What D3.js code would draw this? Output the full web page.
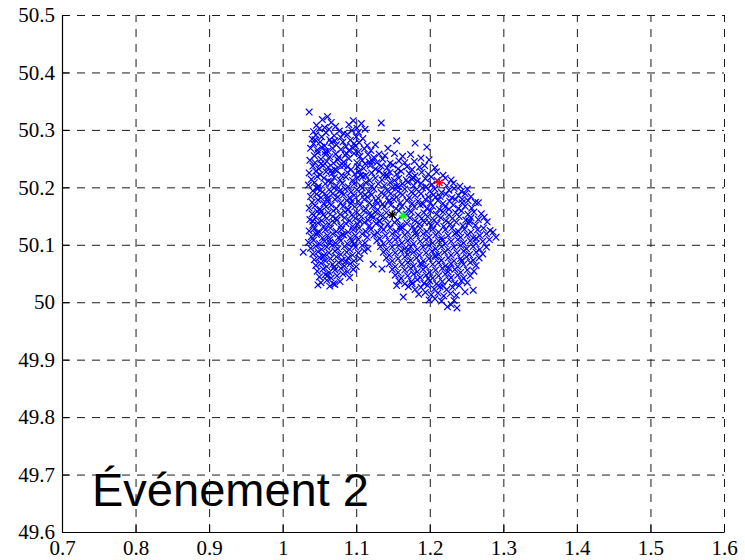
<!DOCTYPE html>
<html>
<head>
<meta charset="utf-8">
<script src="https://cdn.jsdelivr.net/npm/d3@7"></script>
<style>
  html, body { margin: 0; padding: 0; background: #fff; }
  svg { display: block; }
  svg .tick text { font-family: "Liberation Serif", "DejaVu Serif", serif !important; font-size: 21px; }
  svg .label { font-family: "Liberation Sans", Arial, sans-serif; font-size: 47px; }
</style>
</head>
<body>
<svg id="chart" width="745" height="560"></svg>
<script>
// Axis ranges and tick labels
const xDomain = [0.7, 1.6];
const yDomain = [49.6, 50.5];
const xTickValues = [0.7, 0.8, 0.9, 1.0, 1.1, 1.2, 1.3, 1.4, 1.5, 1.6];
const xTickLabels = ["0.7", "0.8", "0.9", "1", "1.1", "1.2", "1.3", "1.4", "1.5", "1.6"];
const yTickValues = [49.6, 49.7, 49.8, 49.9, 50.0, 50.1, 50.2, 50.3, 50.4, 50.5];
const yTickLabels = ["49.6", "49.7", "49.8", "49.9", "50", "50.1", "50.2", "50.3", "50.4", "50.5"];

// Simulated estimates (x, y)
const samples = [
  [1.036,50.331],
  [1.054,50.318],[1.061,50.323],[1.134,50.312],[1.096,50.316],
  [1.046,50.308],[1.057,50.304],[1.066,50.313],[1.072,50.306],[1.09,50.309],[1.101,50.303],[1.107,50.311],
  [1.042,50.297],[1.05,50.302],[1.059,50.295],[1.063,50.301],[1.077,50.298],[1.083,50.294],[1.094,50.299],[1.103,50.296],[1.112,50.301],
  [1.04,50.284],[1.045,50.291],[1.053,50.288],[1.064,50.283],[1.07,50.29],[1.079,50.287],[1.088,50.292],[1.092,50.282],[1.1,50.288],[1.109,50.285],[1.155,50.281],
  [1.042,50.276],[1.051,50.279],[1.057,50.272],[1.066,50.278],[1.073,50.274],[1.082,50.279],[1.086,50.271],[1.097,50.276],[1.104,50.278],[1.115,50.273],[1.126,50.274],[1.18,50.277],
  [1.038,50.268],[1.047,50.265],[1.053,50.27],[1.061,50.263],[1.068,50.268],[1.079,50.266],[1.09,50.264],[1.095,50.269],[1.103,50.262],[1.111,50.267],[1.12,50.264],[1.143,50.268],[1.196,50.27],
  [1.043,50.255],[1.048,50.26],[1.058,50.257],[1.064,50.253],[1.072,50.258],[1.076,50.252],[1.085,50.256],[1.097,50.259],[1.105,50.254],[1.116,50.257],[1.124,50.252],[1.131,50.258],[1.139,50.255],[1.152,50.259],[1.163,50.254],[1.174,50.257],[1.188,50.251],
  [1.037,50.247],[1.044,50.243],[1.052,50.249],[1.06,50.245],[1.069,50.242],[1.075,50.248],[1.083,50.244],[1.09,50.25],[1.101,50.243],[1.108,50.247],[1.112,50.241],[1.122,50.246],[1.128,50.243],[1.136,50.249],[1.146,50.242],[1.158,50.246],[1.166,50.243],[1.179,50.245],[1.199,50.248],
  [1.041,50.237],[1.049,50.232],[1.055,50.238],[1.062,50.235],[1.071,50.231],[1.078,50.238],[1.088,50.236],[1.093,50.231],[1.102,50.236],[1.11,50.233],[1.119,50.238],[1.126,50.232],[1.134,50.237],[1.142,50.234],[1.15,50.239],[1.157,50.232],[1.169,50.236],[1.176,50.231],[1.186,50.235],[1.193,50.238],[1.207,50.234],
  [1.036,50.225],[1.045,50.228],[1.051,50.222],[1.059,50.227],[1.067,50.224],[1.074,50.229],[1.08,50.221],[1.088,50.226],[1.098,50.223],[1.104,50.228],[1.113,50.221],[1.121,50.225],[1.131,50.228],[1.137,50.222],[1.146,50.226],[1.155,50.223],[1.161,50.228],[1.172,50.224],[1.18,50.22],[1.189,50.226],[1.198,50.223],[1.209,50.227],[1.218,50.221],
  [1.039,50.214],[1.047,50.219],[1.056,50.216],[1.062,50.211],[1.07,50.217],[1.078,50.213],[1.086,50.218],[1.095,50.212],[1.101,50.216],[1.109,50.219],[1.118,50.212],[1.126,50.216],[1.135,50.213],[1.143,50.218],[1.152,50.212],[1.158,50.216],[1.168,50.213],[1.177,50.217],[1.183,50.211],[1.194,50.215],[1.202,50.218],[1.21,50.212],[1.221,50.216],[1.229,50.213],
  [1.035,50.204],[1.043,50.208],[1.049,50.202],[1.058,50.206],[1.066,50.209],[1.073,50.203],[1.081,50.207],[1.089,50.201],[1.097,50.206],[1.106,50.203],[1.113,50.208],[1.121,50.202],[1.13,50.206],[1.138,50.203],[1.146,50.208],[1.155,50.202],[1.163,50.206],[1.17,50.209],[1.178,50.203],[1.188,50.207],[1.195,50.201],[1.203,50.205],[1.223,50.203],[1.232,50.207],[1.241,50.202],
  [1.041,50.194],[1.048,50.198],[1.054,50.192],[1.063,50.196],[1.07,50.199],[1.077,50.193],[1.085,50.197],[1.093,50.192],[1.101,50.196],[1.108,50.199],[1.117,50.193],[1.124,50.197],[1.134,50.191],[1.142,50.195],[1.149,50.199],[1.157,50.193],[1.166,50.197],[1.175,50.192],[1.182,50.196],[1.19,50.199],[1.2,50.193],[1.207,50.197],[1.216,50.191],[1.226,50.195],[1.233,50.198],[1.243,50.193],[1.251,50.197],
  [1.038,50.184],[1.046,50.188],[1.052,50.182],[1.06,50.186],[1.068,50.189],[1.075,50.183],[1.083,50.187],[1.091,50.182],[1.097,50.186],[1.106,50.189],[1.115,50.183],[1.121,50.187],[1.13,50.181],[1.139,50.186],[1.147,50.189],[1.155,50.183],[1.163,50.187],[1.172,50.182],[1.18,50.186],[1.188,50.189],[1.198,50.183],[1.205,50.187],[1.214,50.184],[1.222,50.188],[1.23,50.182],[1.239,50.186],[1.248,50.189],[1.256,50.184],
  [1.04,50.174],[1.048,50.178],[1.056,50.172],[1.062,50.176],[1.071,50.179],[1.079,50.173],[1.087,50.177],[1.093,50.172],[1.103,50.176],[1.111,50.179],[1.118,50.173],[1.127,50.177],[1.136,50.171],[1.144,50.176],[1.151,50.179],[1.16,50.173],[1.169,50.177],[1.176,50.172],[1.184,50.176],[1.194,50.179],[1.201,50.173],[1.211,50.177],[1.218,50.172],[1.227,50.176],[1.235,50.179],[1.244,50.173],[1.252,50.177],[1.262,50.174],
  [1.036,50.164],[1.044,50.168],[1.051,50.162],[1.059,50.166],[1.066,50.169],[1.073,50.163],[1.082,50.167],[1.089,50.162],[1.098,50.166],[1.105,50.169],[1.113,50.163],[1.122,50.167],[1.129,50.161],[1.138,50.166],[1.147,50.169],[1.154,50.163],[1.162,50.167],[1.171,50.162],[1.179,50.166],[1.187,50.169],[1.196,50.163],[1.204,50.167],[1.213,50.162],[1.221,50.166],[1.232,50.169],[1.239,50.163],[1.248,50.167],[1.257,50.164],[1.266,50.173],
  [1.04,50.154],[1.047,50.158],[1.055,50.152],[1.062,50.156],[1.069,50.159],[1.078,50.153],[1.085,50.157],[1.094,50.152],[1.101,50.156],[1.11,50.159],[1.117,50.153],[1.126,50.157],[1.133,50.151],[1.141,50.156],[1.158,50.159],[1.168,50.153],[1.175,50.157],[1.184,50.152],[1.192,50.156],[1.201,50.159],[1.209,50.153],[1.218,50.157],[1.226,50.152],[1.235,50.156],[1.243,50.159],[1.252,50.153],[1.26,50.157],[1.27,50.154],
  [1.037,50.144],[1.045,50.148],[1.053,50.142],[1.06,50.146],[1.068,50.149],[1.074,50.143],[1.084,50.147],[1.091,50.142],[1.099,50.146],[1.107,50.149],[1.116,50.143],[1.123,50.147],[1.131,50.141],[1.14,50.146],[1.156,50.143],[1.173,50.147],[1.18,50.142],[1.189,50.146],[1.197,50.149],[1.206,50.143],[1.215,50.147],[1.222,50.142],[1.231,50.146],[1.24,50.149],[1.249,50.143],[1.256,50.147],[1.266,50.144],[1.274,50.148],
  [1.041,50.134],[1.048,50.138],[1.056,50.132],[1.063,50.136],[1.07,50.139],[1.079,50.133],[1.086,50.137],[1.095,50.132],[1.102,50.136],[1.111,50.139],[1.118,50.133],[1.127,50.137],[1.134,50.131],[1.143,50.136],[1.152,50.139],[1.16,50.133],[1.169,50.137],[1.177,50.132],[1.186,50.136],[1.193,50.139],[1.202,50.133],[1.21,50.137],[1.219,50.132],[1.228,50.136],[1.236,50.139],[1.245,50.133],[1.253,50.137],[1.262,50.134],[1.278,50.14],
  [1.036,50.124],[1.043,50.128],[1.05,50.122],[1.058,50.126],[1.065,50.129],[1.073,50.123],[1.08,50.127],[1.089,50.122],[1.096,50.126],[1.104,50.129],[1.113,50.123],[1.12,50.127],[1.129,50.121],[1.137,50.126],[1.146,50.129],[1.154,50.123],[1.161,50.127],[1.17,50.122],[1.179,50.126],[1.187,50.129],[1.196,50.123],[1.204,50.127],[1.212,50.122],[1.221,50.126],[1.23,50.129],[1.239,50.123],[1.247,50.127],[1.256,50.122],[1.265,50.126],[1.273,50.129],[1.282,50.125],
  [1.039,50.114],[1.046,50.118],[1.054,50.112],[1.061,50.116],[1.068,50.119],[1.076,50.113],[1.083,50.117],[1.092,50.112],[1.099,50.116],[1.108,50.119],[1.115,50.113],[1.124,50.117],[1.132,50.111],[1.14,50.116],[1.149,50.119],[1.157,50.113],[1.166,50.117],[1.174,50.112],[1.182,50.116],[1.191,50.119],[1.199,50.113],[1.208,50.117],[1.216,50.112],[1.225,50.116],[1.234,50.119],[1.242,50.113],[1.251,50.117],[1.259,50.112],[1.268,50.116],[1.277,50.119],[1.286,50.122],
  [1.035,50.104],[1.042,50.108],[1.05,50.102],[1.057,50.106],[1.064,50.109],[1.072,50.103],[1.079,50.107],[1.088,50.102],[1.095,50.106],[1.103,50.109],[1.112,50.103],[1.128,50.107],[1.137,50.102],[1.145,50.106],[1.153,50.109],[1.162,50.103],[1.17,50.107],[1.178,50.102],[1.187,50.106],[1.195,50.109],[1.204,50.103],[1.212,50.107],[1.221,50.102],[1.229,50.106],[1.238,50.109],[1.246,50.103],[1.255,50.107],[1.263,50.102],[1.272,50.106],[1.281,50.109],[1.29,50.113],
  [1.038,50.094],[1.045,50.098],[1.053,50.092],[1.06,50.096],[1.067,50.099],[1.075,50.093],[1.084,50.097],[1.091,50.092],[1.099,50.096],[1.108,50.099],[1.116,50.093],[1.133,50.097],[1.141,50.092],[1.149,50.096],[1.158,50.099],[1.166,50.093],[1.174,50.097],[1.183,50.092],[1.191,50.096],[1.199,50.099],[1.208,50.093],[1.216,50.097],[1.225,50.092],[1.233,50.096],[1.242,50.099],[1.25,50.093],[1.259,50.097],[1.268,50.092],[1.277,50.096],
  [1.028,50.087],[1.041,50.084],[1.048,50.088],[1.056,50.082],[1.063,50.086],[1.071,50.089],[1.079,50.083],[1.087,50.087],[1.095,50.082],[1.103,50.086],[1.111,50.089],[1.137,50.087],[1.145,50.082],[1.153,50.086],[1.161,50.089],[1.17,50.083],[1.178,50.087],[1.186,50.082],[1.195,50.086],[1.203,50.089],[1.212,50.083],[1.22,50.087],[1.229,50.082],[1.237,50.086],[1.246,50.089],[1.254,50.083],[1.263,50.087],[1.272,50.084],
  [1.043,50.074],[1.05,50.078],[1.058,50.072],[1.065,50.076],[1.073,50.079],[1.081,50.073],[1.089,50.077],[1.097,50.072],[1.105,50.076],[1.141,50.077],[1.149,50.072],[1.157,50.076],[1.166,50.079],[1.174,50.073],[1.182,50.077],[1.191,50.072],[1.199,50.076],[1.208,50.079],[1.216,50.073],[1.225,50.077],[1.233,50.072],[1.242,50.076],[1.25,50.079],[1.259,50.073],[1.267,50.077],
  [1.045,50.064],[1.052,50.068],[1.06,50.062],[1.068,50.066],[1.076,50.069],[1.084,50.063],[1.092,50.067],[1.1,50.062],[1.123,50.066],[1.145,50.067],[1.153,50.062],[1.162,50.066],[1.17,50.069],[1.178,50.063],[1.187,50.067],[1.195,50.062],[1.204,50.066],[1.212,50.069],[1.221,50.063],[1.229,50.067],[1.238,50.062],[1.246,50.066],[1.255,50.069],[1.263,50.064],
  [1.047,50.054],[1.055,50.058],[1.063,50.052],[1.071,50.056],[1.079,50.059],[1.088,50.053],[1.096,50.057],[1.135,50.058],[1.149,50.057],[1.157,50.052],[1.166,50.056],[1.174,50.059],[1.183,50.053],[1.191,50.057],[1.2,50.052],[1.208,50.056],[1.217,50.059],[1.225,50.053],[1.234,50.057],[1.242,50.052],[1.251,50.056],[1.26,50.054],
  [1.05,50.044],[1.058,50.048],[1.066,50.042],[1.074,50.046],[1.082,50.049],[1.091,50.043],[1.153,50.047],[1.161,50.042],[1.17,50.046],[1.178,50.049],[1.187,50.043],[1.195,50.047],[1.204,50.042],[1.212,50.046],[1.221,50.049],[1.229,50.043],[1.238,50.047],[1.246,50.042],[1.255,50.046],
  [1.052,50.034],[1.06,50.038],[1.069,50.032],[1.078,50.036],[1.158,50.037],[1.166,50.032],[1.175,50.036],[1.183,50.039],[1.192,50.033],[1.2,50.037],[1.209,50.032],[1.217,50.036],[1.226,50.039],[1.234,50.033],[1.243,50.037],[1.251,50.034],
  [1.048,50.03],[1.064,50.028],[1.071,50.031],[1.155,50.029],[1.171,50.027],[1.18,50.022],[1.188,50.026],[1.197,50.029],[1.206,50.023],[1.214,50.027],[1.223,50.022],[1.231,50.026],[1.24,50.029],[1.259,50.021],
  [1.164,50.009],[1.185,50.014],[1.194,50.017],[1.202,50.013],[1.211,50.016],[1.219,50.011],[1.228,50.015],[1.236,50.012],[1.248,50.018],
  [1.199,50.004],[1.207,50.006],[1.216,50.002],[1.224,49.992],[1.233,50.003],[1.237,49.99],[1.229,49.996],
  [1.044,50.283],[1.058,50.262],[1.071,50.281],[1.087,50.259],[1.099,50.272],[1.052,50.241],[1.066,50.229],[1.083,50.238],[1.106,50.221],[1.118,50.244],
  [1.046,50.199],[1.061,50.181],[1.079,50.195],[1.094,50.176],[1.112,50.187],[1.129,50.172],[1.052,50.158],[1.072,50.146],[1.089,50.161],[1.105,50.141],
  [1.121,50.152],[1.047,50.121],[1.064,50.104],[1.081,50.118],[1.097,50.101],[1.055,50.079],[1.07,50.061],[1.086,50.071],[1.061,50.046],[1.041,50.141],
  [1.141,50.222],[1.158,50.201],[1.176,50.214],[1.191,50.171],[1.208,50.183],[1.226,50.162],[1.244,50.179],[1.162,50.131],[1.181,50.121],[1.199,50.139],
  [1.217,50.108],[1.236,50.121],[1.254,50.141],[1.171,50.091],[1.189,50.066],[1.207,50.081],[1.226,50.059],[1.243,50.072],[1.198,50.041],[1.218,50.028],
  [1.176,50.032],[1.263,50.111],[1.145,50.177],[1.132,50.141]
];

// Highlighted positions drawn as stars
const starX = [1.149, 1.164, 1.213];
const starY = [50.152, 50.150, 50.208];
const starColors = ["#000000", "#00ff00", "#ff0000"];

const annotation = "Événement 2";

const svg = d3.select("#chart");
const plot = { left: 62, right: 724, top: 15, bottom: 532 };

const x = d3.scaleLinear().domain(xDomain).range([plot.left, plot.right]);
const y = d3.scaleLinear().domain(yDomain).range([plot.bottom, plot.top]);

// Dashed grid
const gridX = svg.append("g")
  .attr("transform", `translate(0,${plot.bottom})`)
  .call(d3.axisBottom(x).tickValues(xTickValues.slice(1)).tickSize(-(plot.bottom - plot.top)).tickFormat(""));
gridX.select(".domain").remove();
gridX.selectAll("line").attr("stroke", "#1a1a1a").attr("stroke-width", 1).attr("stroke-dasharray", "8,7");

const gridY = svg.append("g")
  .attr("transform", `translate(${plot.left},0)`)
  .call(d3.axisLeft(y).tickValues(yTickValues.slice(1)).tickSize(-(plot.right - plot.left)).tickFormat(""));
gridY.select(".domain").remove();
gridY.selectAll("line").attr("stroke", "#1a1a1a").attr("stroke-width", 1).attr("stroke-dasharray", "8,7");

// Cloud of 'x' markers
const h = 3.3;
svg.append("g")
  .selectAll("path")
  .data(samples)
  .join("path")
  .attr("d", d => {
    const cx = x(d[0]), cy = y(d[1]);
    return `M${cx - h},${cy - h}L${cx + h},${cy + h}M${cx - h},${cy + h}L${cx + h},${cy - h}`;
  })
  .attr("fill", "none")
  .attr("stroke", "#0000ff")
  .attr("stroke-width", 1.2);

// Star markers
const s = 4.5, sd = 3.2;
svg.append("g")
  .selectAll("path")
  .data(starX.map((v, i) => ({ x: v, y: starY[i], c: starColors[i] })))
  .join("path")
  .attr("d", d => {
    const cx = x(d.x), cy = y(d.y);
    return `M${cx - s},${cy}L${cx + s},${cy}M${cx},${cy - s}L${cx},${cy + s}` +
           `M${cx - sd},${cy - sd}L${cx + sd},${cy + sd}M${cx - sd},${cy + sd}L${cx + sd},${cy - sd}`;
  })
  .attr("fill", "none")
  .attr("stroke", d => d.c)
  .attr("stroke-width", 1.4);

// Axes with inward ticks
const axX = svg.append("g")
  .attr("transform", `translate(0,${plot.bottom})`)
  .call(d3.axisBottom(x).tickValues(xTickValues).tickFormat((d, i) => xTickLabels[i])
    .tickSizeInner(-7).tickSizeOuter(0).tickPadding(8));
const axY = svg.append("g")
  .attr("transform", `translate(${plot.left},0)`)
  .call(d3.axisLeft(y).tickValues(yTickValues).tickFormat((d, i) => yTickLabels[i])
    .tickSizeInner(-7).tickSizeOuter(0).tickPadding(7));

[axX, axY].forEach(g => {
  g.attr("font-family", null).attr("font-size", null);
  g.select(".domain").attr("stroke", "#000").attr("stroke-width", 1.2);
  g.selectAll(".tick line").attr("stroke", "#000").attr("stroke-width", 1);
  g.selectAll("text").attr("fill", "#000");
});

// Annotation
svg.append("text")
  .attr("class", "label")
  .attr("x", 92)
  .attr("y", 506)
  .attr("fill", "#000")
  .text(annotation);
</script>
</body>
</html>
